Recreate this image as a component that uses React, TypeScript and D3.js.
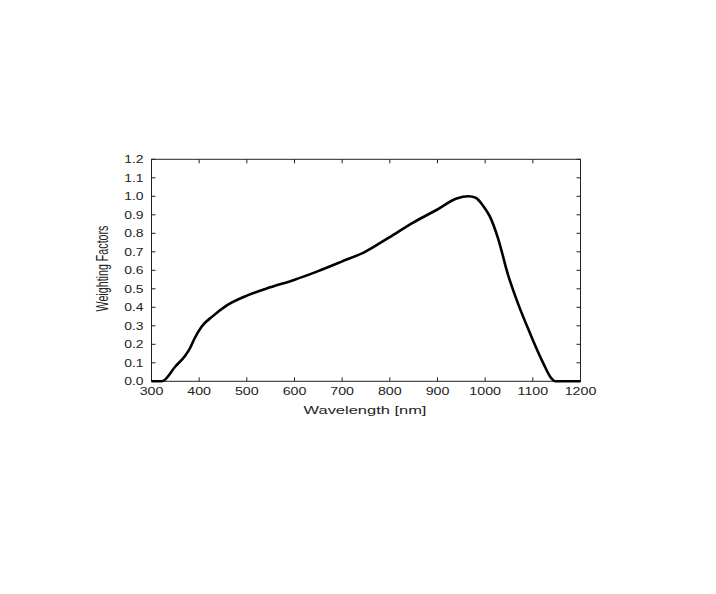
import React from "react";
import * as d3 from "d3";

const wavelengths = [300, 322, 350, 371, 381, 390, 405, 430, 458, 500, 549, 599, 647, 699, 748, 798, 849, 898, 940, 965, 980, 996, 1010, 1027, 1048, 1066, 1094, 1122, 1139, 1147, 1200];
const weights = [0, 0, 0.08, 0.14, 0.18, 0.23, 0.295, 0.355, 0.41, 0.463, 0.508, 0.548, 0.593, 0.647, 0.70, 0.777, 0.858, 0.926, 0.988, 1.0, 0.992, 0.948, 0.89, 0.773, 0.575, 0.44, 0.26, 0.097, 0.016, 0, 0];
const xTicks = [300, 400, 500, 600, 700, 800, 900, 1000, 1100, 1200];
const yTicks = [0, 0.1, 0.2, 0.3, 0.4, 0.5, 0.6, 0.7, 0.8, 0.9, 1.0, 1.1, 1.2];

export default function App() {
  const W = 716, H = 594;
  const left = 151.5, right = 580.5, top = 159.3, bottom = 381.3;
  const x = d3.scaleLinear().domain([300, 1200]).range([left, right]);
  const y = d3.scaleLinear().domain([0, 1.2]).range([bottom, top]);
  const pts = wavelengths.map((w, i) => [w, weights[i]] as [number, number]);
  const line = d3.line<[number, number]>().x(d => x(d[0])).y(d => y(d[1])).curve(d3.curveMonotoneX);
  const font = "'Liberation Sans', Arial, Helvetica, sans-serif";
  const tl = 4;
  const sx = 1.33;
  return (
    <svg width={W} height={H} style={{ position: "absolute", left: 0, top: 0, background: "#fff" }}>
      <rect x={0} y={0} width={W} height={H} fill="#fff" />
      <rect x={left} y={top} width={right - left} height={bottom - top} fill="none" stroke="#222" strokeWidth={1} />
      {xTicks.map(t => (
        <g key={"x" + t}>
          <line x1={x(t)} x2={x(t)} y1={bottom} y2={bottom - tl} stroke="#222" />
          <line x1={x(t)} x2={x(t)} y1={top} y2={top + tl} stroke="#222" />
          <text transform={`translate(${x(t)},395) scale(${sx},1)`} textAnchor="middle" fontFamily={font} fontSize={10.7} fill="#222">{t}</text>
        </g>
      ))}
      {yTicks.map(t => (
        <g key={"y" + t}>
          <line x1={left} x2={left + tl} y1={y(t)} y2={y(t)} stroke="#222" />
          <line x1={right} x2={right - tl} y1={y(t)} y2={y(t)} stroke="#222" />
          <text transform={`translate(143.5,${y(t) + 3.8}) scale(1.3,1)`} textAnchor="middle" fontFamily={font} fontSize={10.7} fill="#222" style={{ textAnchor: "end" }}>{t.toFixed(1)}</text>
        </g>
      ))}
      <path d={line(pts) ?? ""} fill="none" stroke="#000" strokeWidth={2.6} strokeLinejoin="round" />
      <text transform={`translate(365,413.5) scale(1.42,1)`} textAnchor="middle" fontFamily={font} fontSize={11.6} fill="#222">Wavelength [nm]</text>
      <text transform={`translate(107.5,268.5) scale(1.5,1) rotate(-90)`} textAnchor="middle" fontFamily={font} fontSize={10.7} fill="#222">Weighting Factors</text>
    </svg>
  );
}
